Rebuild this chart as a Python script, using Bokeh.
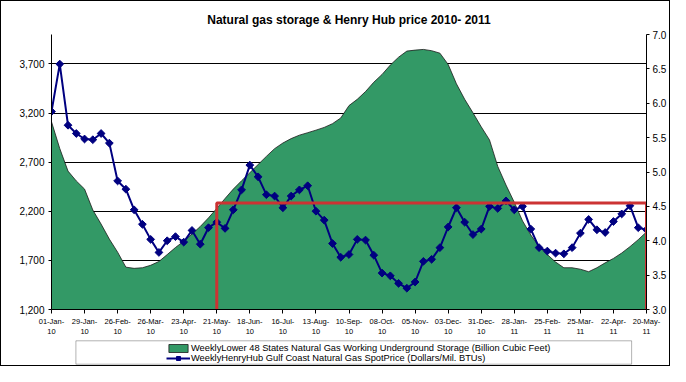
import math
from bokeh.plotting import figure
from bokeh.layouts import column
from bokeh.models import (Range1d, LinearAxis, FixedTicker, NumeralTickFormatter,
                          Legend, LegendItem, BoxAnnotation)
from bokeh.embed import file_html
from bokeh.resources import INLINE

title_text = "Natural gas storage & Henry Hub price 2010- 2011"

tick_labels = ["01-Jan-10", "29-Jan-10", "26-Feb-10", "26-Mar-10", "23-Apr-10",
               "21-May-10", "18-Jun-10", "16-Jul-10", "13-Aug-10", "10-Sep-10",
               "08-Oct-10", "05-Nov-10", "03-Dec-10", "31-Dec-10", "28-Jan-11",
               "25-Feb-11", "25-Mar-11", "22-Apr-11", "20-May-11"]
weeks_per_tick = 4

# Weekly Lower 48 working gas in storage (Bcf)
storage = [3111, 2839, 2609, 2509, 2426, 2213, 2070, 1917, 1784, 1631,
           1619, 1625, 1650, 1689, 1759, 1831, 1895, 1968, 2045, 2133,
           2229, 2330, 2426, 2511, 2593, 2676, 2759, 2838, 2895, 2940,
           2975, 3000, 3026, 3054, 3092, 3150, 3276, 3340, 3419, 3514,
           3593, 3689, 3769, 3831, 3841, 3848, 3835, 3810, 3695, 3498,
           3340, 3203, 3060, 2927, 2657, 2467, 2292, 2102, 1959, 1841,
           1759, 1683, 1625, 1625, 1610, 1585, 1625, 1675, 1720, 1775,
           1840, 1911, 1990]

# Weekly Henry Hub spot price ($/MMBtu)
price = [5.88, 6.57, 5.68, 5.56, 5.48, 5.47, 5.56, 5.42, 4.87, 4.75,
         4.45, 4.24, 4.02, 3.83, 4.00, 4.06, 3.98, 4.15, 3.95, 4.19,
         4.27, 4.18, 4.45, 4.74, 5.10, 4.93, 4.67, 4.65, 4.48, 4.65,
         4.74, 4.80, 4.43, 4.30, 3.96, 3.76, 3.80, 4.02, 4.01, 3.79,
         3.53, 3.49, 3.38, 3.31, 3.40, 3.70, 3.73, 3.90, 4.20, 4.48,
         4.27, 4.09, 4.17, 4.50, 4.47, 4.58, 4.45, 4.50, 4.17, 3.90,
         3.85, 3.82, 3.81, 3.90, 4.11, 4.31, 4.16, 4.12, 4.28, 4.39,
         4.51, 4.19, 4.16]

storage_ticks = [1200, 1700, 2200, 2700, 3200, 3700]
storage_min, storage_max = 1200, 4000
price_ticks = [3.0, 3.5, 4.0, 4.5, 5.0, 5.5, 6.0, 6.5, 7.0]
price_min, price_max = 3.0, 7.0

storage_label = "WeeklyLower 48 States Natural Gas Working Underground Storage (Billion Cubic Feet)"
price_label = "WeeklyHenryHub Gulf Coast Natural Gas SpotPrice (Dollars/Mil. BTUs)"

highlight_start = "21-May-10"
highlight_end = "20-May-11"
highlight_level = 4.55

FONT = "Liberation Sans"
GREEN = "#339966"
NAVY = "#000080"
RED = "#CC3333"
AREA_EDGE = "#1a1a1a"

# legend box extent as fractions of the plot width (layout, not data)
LEGEND_BOX_LEFT, LEGEND_BOX_RIGHT = 0.041, 0.975

weeks = list(range(len(price)))
tick_pos = [i * weeks_per_tick for i in range(len(tick_labels))]
area_x = weeks + [weeks[-1], weeks[0]]
area_y = storage + [storage_min, storage_min]


def wrap(lab):
    k = lab.rfind("-") + 1
    return lab[:k] + "\n" + lab[k:]


def draw_series(fig):
    ra = fig.patch(area_x, area_y, fill_color=GREEN, line_color=AREA_EDGE, line_width=0.8)
    rl = fig.line(weeks, price, y_range_name="price", line_color=NAVY, line_width=2)
    rm = fig.scatter(weeks, price, y_range_name="price", marker="square",
                     angle=math.pi / 4, size=5.5, fill_color=NAVY, line_color=NAVY)
    return ra, rl, rm


BORDER_L, BORDER_R = 50, 22

# ---------------- main chart ----------------
p = figure(width=668, height=338, output_backend="svg", toolbar_location=None,
           x_range=Range1d(weeks[0], weeks[-1]),
           y_range=Range1d(storage_min, storage_max),
           min_border_left=BORDER_L, min_border_right=BORDER_R, min_border_top=33,
           min_border_bottom=26)
p.extra_y_ranges = {"price": Range1d(price_min, price_max)}

p.title.text = title_text
p.title.align = "center"
p.title.text_font = FONT
p.title.text_font_size = "12px"
p.title.text_font_style = "bold"
p.title.text_color = "black"
p.title.standoff = 16

p.outline_line_color = None
p.background_fill_color = "white"
p.border_fill_color = "white"

xa = p.xaxis[0]
xa.ticker = FixedTicker(ticks=tick_pos)
xa.major_label_overrides = {pos: wrap(lab) for pos, lab in zip(tick_pos, tick_labels)}
xa.major_label_text_font = FONT
xa.major_label_text_font_size = "7.5px"
xa.major_label_text_color = "black"
xa.axis_line_color = "black"
xa.major_tick_line_color = "black"
xa.major_tick_out = 4
xa.major_tick_in = 0
xa.minor_tick_line_color = None
xa.major_label_standoff = 3
p.xgrid.visible = False

ya = p.yaxis[0]
ya.ticker = FixedTicker(ticks=storage_ticks)
ya.formatter = NumeralTickFormatter(format="0,0")
ya.major_label_text_font = FONT
ya.major_label_text_font_size = "10px"
ya.major_label_text_color = "black"
ya.axis_line_color = "black"
ya.major_tick_line_color = "black"
ya.major_tick_out = 3
ya.major_tick_in = 0
ya.minor_tick_line_color = None
ya.major_label_standoff = 4
p.ygrid.ticker = FixedTicker(ticks=storage_ticks)
p.ygrid.grid_line_color = "black"
p.ygrid.grid_line_width = 1

rax = LinearAxis(y_range_name="price", ticker=FixedTicker(ticks=price_ticks),
                 formatter=NumeralTickFormatter(format="0.0"))
rax.major_label_text_font = FONT
rax.major_label_text_font_size = "10px"
rax.major_label_text_color = "black"
rax.axis_line_color = "black"
rax.major_tick_line_color = "black"
rax.major_tick_out = 3
rax.major_tick_in = 0
rax.minor_tick_line_color = None
rax.major_label_standoff = 3
p.add_layout(rax, "right")

draw_series(p)

hx0 = tick_labels.index(highlight_start) * weeks_per_tick
hx1 = tick_labels.index(highlight_end) * weeks_per_tick
p.line([hx0, hx0, hx1, hx1], [price_min, highlight_level, highlight_level, price_min],
       y_range_name="price", line_color=RED, line_width=3)

# ---------------- legend strip ----------------
lg = figure(width=668, height=26, output_backend="svg", toolbar_location=None,
            x_range=Range1d(0, 1), y_range=Range1d(0, 1),
            x_axis_location=None, y_axis_location=None,
            min_border_left=BORDER_L, min_border_right=BORDER_R, min_border_top=0,
            min_border_bottom=0)
# proxies for legend swatches: their values fall outside this strip's ranges
lg.extra_y_ranges = {"price": Range1d(price_max + 100, price_max + 101)}
lg.xgrid.visible = False
lg.ygrid.visible = False
lg.outline_line_color = None
lg.background_fill_color = "white"
lg.border_fill_color = "white"

lg.add_layout(BoxAnnotation(left=LEGEND_BOX_LEFT, right=LEGEND_BOX_RIGHT, bottom=0.05, top=0.95,
                            fill_alpha=0, line_color="black", line_width=1))

pa, pl, pm = draw_series(lg)

leg = Legend(items=[LegendItem(label=storage_label, renderers=[pa]),
                    LegendItem(label=price_label, renderers=[pl, pm])],
             location=(115, 2), padding=1, margin=0, spacing=0,
             glyph_width=24, glyph_height=10, label_standoff=1,
             label_height=10, label_width=20,
             border_line_color=None, background_fill_alpha=0,
             label_text_font=FONT, label_text_font_size="9.3px",
             label_text_color="black")
lg.add_layout(leg, "center")

layout = column(p, lg, spacing=0, styles={"border": "1px solid black"})

open("out.html", "w").write(file_html(layout, INLINE))
